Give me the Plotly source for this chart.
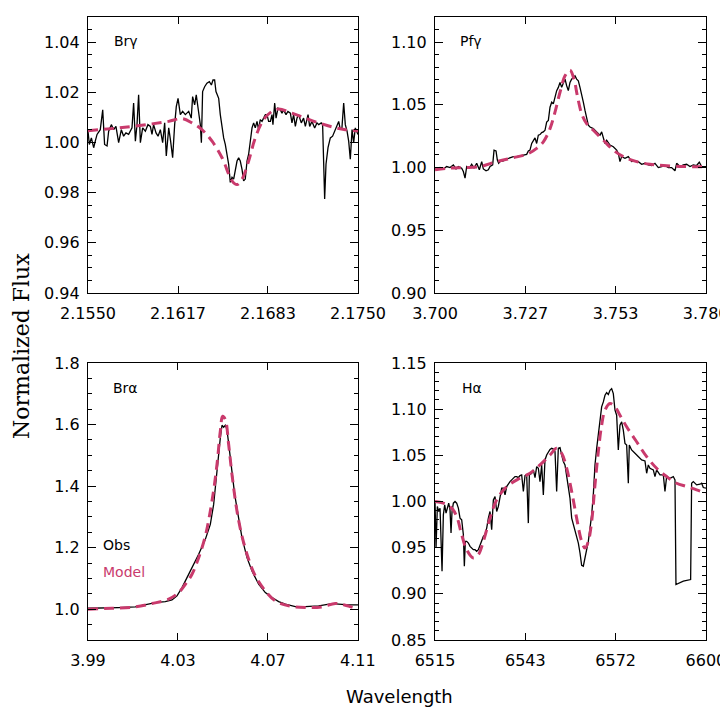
import plotly.graph_objects as go
from plotly.subplots import make_subplots

# ---- Br gamma ----
brg_obs_wl = [2.15500, 2.15510, 2.15525, 2.15542, 2.15554, 2.15567, 2.15591, 2.15609, 2.15623, 2.15641,
              2.15653, 2.15673, 2.15690, 2.15707, 2.15727, 2.15747, 2.15764, 2.15781, 2.15801, 2.15826,
              2.15838, 2.15851, 2.15863, 2.15875, 2.15888, 2.15905, 2.15925, 2.15944, 2.15962, 2.15974,
              2.15986, 2.16004, 2.16019, 2.16036, 2.16053, 2.16068, 2.16080, 2.16098, 2.16112, 2.16127,
              2.16142, 2.16154, 2.16167, 2.16184, 2.16201, 2.16221, 2.16246, 2.16265, 2.16275, 2.16290,
              2.16302, 2.16320, 2.16332, 2.16340, 2.16349, 2.16364, 2.16381, 2.16399, 2.16414, 2.16426,
              2.16438, 2.16448, 2.16468, 2.16480, 2.16493, 2.16505, 2.16517, 2.16530, 2.16542, 2.16554,
              2.16567, 2.16579, 2.16591, 2.16604, 2.16616, 2.16628, 2.16641, 2.16653, 2.16665, 2.16678,
              2.16690, 2.16702, 2.16715, 2.16727, 2.16739, 2.16752, 2.16764, 2.16776, 2.16789, 2.16801,
              2.16814, 2.16826, 2.16838, 2.16851, 2.16863, 2.16870, 2.16883, 2.16893, 2.16907, 2.16925,
              2.16937, 2.16949, 2.16967, 2.16981, 2.16999, 2.17011, 2.17023, 2.17036, 2.17048, 2.17060,
              2.17080, 2.17097, 2.17110, 2.17130, 2.17142, 2.17159, 2.17179, 2.17196, 2.17209, 2.17228,
              2.17238, 2.17253, 2.17263, 2.17278, 2.17295, 2.17312, 2.17332, 2.17344, 2.17357, 2.17369,
              2.17381, 2.17394, 2.17406, 2.17419, 2.17431, 2.17443, 2.17456, 2.17468, 2.17480, 2.17500]
brg_obs_flux = [1.0045, 0.9992, 1.0018, 0.9979, 1.0005, 1.0032, 1.0051, 1.0130, 0.9992, 0.9986,
                1.0045, 1.0071, 1.0051, 1.0064, 0.9999, 1.0051, 1.0025, 1.0038, 1.0032, 1.0058,
                1.0157, 1.0005, 1.0071, 1.0190, 0.9999, 1.0058, 1.0045, 1.0071, 1.0064, 1.0032,
                1.0071, 1.0038, 1.0025, 1.0051, 0.9999, 1.0078, 0.9946, 1.0058, 1.0005, 0.9939,
                1.0071, 1.0143, 1.0176, 1.0111, 1.0124, 1.0111, 1.0124, 1.0097, 1.0183, 1.0150,
                1.0190, 1.0111, 1.0071, 0.9999, 1.0203, 1.0222, 1.0236, 1.0242, 1.0229, 1.0249,
                1.0249, 1.0203, 1.0176, 1.0111, 1.0058, 1.0018, 0.9992, 0.9953, 0.9913, 0.9841,
                0.9861, 0.9854, 0.9887, 0.9926, 0.9939, 0.9926, 0.9893, 0.9847, 0.9854, 0.9926,
                0.9953, 1.0005, 1.0058, 1.0078, 1.0058, 1.0084, 1.0051, 1.0091, 1.0084, 1.0097,
                1.0111, 1.0111, 1.0084, 1.0084, 1.0111, 1.0071, 1.0157, 1.0097, 1.0137, 1.0130,
                1.0117, 1.0130, 1.0111, 1.0124, 1.0117, 1.0078, 1.0111, 1.0064, 1.0097, 1.0111,
                1.0078, 1.0097, 1.0064, 1.0111, 1.0064, 1.0084, 1.0058, 1.0078, 1.0071, 1.0078,
                1.0071, 0.9775, 0.9913, 0.9979, 1.0018, 1.0025, 1.0051, 1.0071, 1.0084, 1.0051,
                1.0058, 1.0157, 1.0071, 1.0045, 1.0005, 0.9933, 1.0051, 0.9999, 1.0058, 1.0032]
brg_mod_wl = [2.15500, 2.15727, 2.15974, 2.16098, 2.16196, 2.16270, 2.16344, 2.16419, 2.16493, 2.16567,
              2.16604, 2.16641, 2.16690, 2.16739, 2.16801, 2.16863, 2.16912, 2.17011, 2.17110, 2.17209,
              2.17307, 2.17406, 2.17500]
brg_mod_flux = [1.0047, 1.0058, 1.0074, 1.0084, 1.0095, 1.0078, 1.0051, 1.0005, 0.9939, 0.9847,
                0.9832, 0.9854, 0.9926, 1.0018, 1.0091, 1.0124, 1.0133, 1.0117, 1.0097, 1.0078,
                1.0062, 1.0051, 1.0047]

# ---- Pf gamma ----
pfg_obs_wl = [3.70000, 3.70069, 3.70148, 3.70246, 3.70344, 3.70443, 3.70541, 3.70620, 3.70689, 3.70787,
              3.70836, 3.70886, 3.70935, 3.71014, 3.71082, 3.71151, 3.71230, 3.71309, 3.71378, 3.71427,
              3.71506, 3.71574, 3.71624, 3.71702, 3.71742, 3.71801, 3.71840, 3.71879, 3.71919, 3.72017,
              3.72116, 3.72214, 3.72312, 3.72411, 3.72509, 3.72608, 3.72706, 3.72755, 3.72804, 3.72854,
              3.72903, 3.72952, 3.73001, 3.73050, 3.73100, 3.73149, 3.73198, 3.73247, 3.73296, 3.73346,
              3.73395, 3.73444, 3.73493, 3.73542, 3.73592, 3.73641, 3.73690, 3.73739, 3.73788, 3.73838,
              3.73887, 3.73936, 3.73985, 3.74034, 3.74084, 3.74133, 3.74182, 3.74231, 3.74280, 3.74330,
              3.74379, 3.74428, 3.74477, 3.74526, 3.74576, 3.74674, 3.74772, 3.74871, 3.74920, 3.74969,
              3.75018, 3.75068, 3.75166, 3.75264, 3.75363, 3.75412, 3.75461, 3.75510, 3.75609, 3.75707,
              3.75806, 3.75904, 3.76002, 3.76101, 3.76199, 3.76298, 3.76396, 3.76494, 3.76593, 3.76691,
              3.76790, 3.76888, 3.76986, 3.77085, 3.77134, 3.77232, 3.77331, 3.77429, 3.77528, 3.77626,
              3.77724, 3.77803, 3.77872, 3.78000]
pfg_obs_flux = [0.9989, 0.9982, 1.0000, 0.9989, 1.0008, 1.0000, 1.0021, 0.9989, 1.0008, 0.9995,
                0.9968, 0.9916, 1.0008, 0.9995, 1.0026, 0.9995, 1.0034, 0.9982, 1.0047, 0.9989,
                0.9974, 0.9982, 1.0008, 1.0021, 1.0139, 1.0132, 1.0060, 1.0034, 1.0047, 1.0053,
                1.0068, 1.0079, 1.0087, 1.0087, 1.0092, 1.0100, 1.0105, 1.0132, 1.0139, 1.0192,
                1.0218, 1.0237, 1.0192, 1.0258, 1.0263, 1.0279, 1.0284, 1.0297, 1.0363, 1.0376,
                1.0481, 1.0521, 1.0508, 1.0573, 1.0613, 1.0639, 1.0679, 1.0639, 1.0679, 1.0705,
                1.0652, 1.0613, 1.0679, 1.0705, 1.0718, 1.0731, 1.0705, 1.0692, 1.0639, 1.0586,
                1.0521, 1.0455, 1.0389, 1.0337, 1.0323, 1.0310, 1.0284, 1.0258, 1.0284, 1.0231,
                1.0192, 1.0218, 1.0179, 1.0166, 1.0139, 1.0113, 1.0047, 1.0087, 1.0074, 1.0087,
                1.0047, 1.0053, 1.0047, 1.0026, 1.0034, 1.0021, 1.0016, 1.0034, 1.0000, 1.0008,
                1.0016, 1.0000, 1.0000, 0.9974, 1.0034, 1.0008, 1.0021, 1.0026, 1.0008, 1.0021,
                1.0016, 1.0042, 1.0008, 1.0008]
pfg_mod_wl = [3.70000, 3.70443, 3.70836, 3.71328, 3.71820, 3.72312, 3.72706, 3.73001, 3.73198, 3.73395,
              3.73542, 3.73690, 3.73838, 3.73985, 3.74103, 3.74202, 3.74330, 3.74477, 3.74674, 3.74969,
              3.75264, 3.75559, 3.75953, 3.76347, 3.76740, 3.77331, 3.78000]
pfg_mod_flux = [0.9982, 0.9995, 1.0000, 1.0008, 1.0047, 1.0079, 1.0105, 1.0153, 1.0205, 1.0310,
                1.0442, 1.0600, 1.0731, 1.0776, 1.0705, 1.0573, 1.0429, 1.0350, 1.0297, 1.0218,
                1.0139, 1.0087, 1.0047, 1.0026, 1.0016, 1.0008, 1.0005]

# ---- Br alpha ----
bra_obs_wl = [3.99000, 3.99622, 4.00363, 4.01104, 4.01548, 4.01993, 4.02437, 4.02733, 4.02956, 4.03178,
              4.03400, 4.03622, 4.03919, 4.04215, 4.04437, 4.04585, 4.04704, 4.04807, 4.04881, 4.04956,
              4.05030, 4.05104, 4.05178, 4.05281, 4.05400, 4.05519, 4.05667, 4.05844, 4.06067, 4.06289,
              4.06585, 4.06881, 4.07178, 4.07474, 4.07770, 4.08215, 4.08659, 4.09252, 4.09844, 4.10141,
              4.10585, 4.11000]
bra_obs_flux = [1.0032, 1.0032, 1.0054, 1.0076, 1.0141, 1.0216, 1.0249, 1.0303, 1.0432, 1.0703,
                1.1027, 1.1351, 1.1784, 1.2270, 1.2757, 1.3405, 1.4162, 1.5027, 1.5567, 1.5978,
                1.5913, 1.5978, 1.5837, 1.5135, 1.4378, 1.3730, 1.3081, 1.2324, 1.1676, 1.1243,
                1.0811, 1.0541, 1.0378, 1.0249, 1.0162, 1.0086, 1.0086, 1.0108, 1.0184, 1.0162,
                1.0141, 1.0141]
bra_mod_wl = [3.99000, 4.00067, 4.01104, 4.01844, 4.02585, 4.03030, 4.03326, 4.03622, 4.03919, 4.04215,
              4.04511, 4.04733, 4.04881, 4.04985, 4.05104, 4.05252, 4.05400, 4.05622, 4.05844, 4.06141,
              4.06437, 4.06881, 4.07326, 4.07919, 4.08659, 4.09400, 4.09993, 4.10437, 4.11000]
bra_mod_flux = [1.0000, 1.0032, 1.0076, 1.0184, 1.0324, 1.0541, 1.0811, 1.1135, 1.1676, 1.2378,
                1.3513, 1.4702, 1.5784, 1.6270, 1.6162, 1.5351, 1.4378, 1.3189, 1.2378, 1.1622,
                1.1081, 1.0595, 1.0270, 1.0108, 1.0054, 1.0076, 1.0184, 1.0130, 1.0000]

# ---- H alpha ----
ha_obs_wl = [6515.00, 6515.31, 6515.73, 6516.15, 6516.57, 6516.88, 6517.20, 6517.61, 6518.03, 6518.45,
             6518.87, 6519.29, 6519.70, 6520.02, 6520.33, 6520.75, 6521.27, 6521.80, 6522.32, 6522.84,
             6523.36, 6523.89, 6524.20, 6524.51, 6524.93, 6525.46, 6525.98, 6526.50, 6527.02, 6527.55,
             6528.07, 6528.59, 6529.11, 6529.64, 6530.16, 6530.68, 6531.21, 6531.73, 6532.25, 6532.77,
             6533.30, 6533.82, 6534.34, 6534.86, 6535.39, 6535.91, 6536.43, 6536.96, 6537.48, 6538.00,
             6538.52, 6539.05, 6539.57, 6540.09, 6540.61, 6541.14, 6541.66, 6542.18, 6542.71, 6543.23,
             6543.75, 6544.27, 6544.59, 6545.32, 6545.84, 6546.37, 6546.89, 6547.41, 6547.93, 6548.46,
             6548.98, 6549.50, 6550.02, 6550.55, 6551.07, 6551.59, 6552.12, 6552.64, 6553.16, 6553.68,
             6554.21, 6554.73, 6555.25, 6555.77, 6556.30, 6556.82, 6557.34, 6557.87, 6558.39, 6558.91,
             6559.43, 6559.96, 6560.48, 6561.00, 6561.52, 6562.05, 6562.57, 6563.09, 6563.62, 6564.14,
             6564.66, 6565.18, 6565.71, 6566.23, 6566.75, 6567.27, 6567.80, 6568.32, 6568.84, 6569.37,
             6569.89, 6570.41, 6570.93, 6571.46, 6571.98, 6572.50, 6573.02, 6573.55, 6574.07, 6574.59,
             6575.12, 6575.64, 6575.95, 6576.68, 6577.73, 6578.77, 6579.82, 6580.86, 6581.39, 6581.91,
             6582.43, 6583.48, 6584.00, 6584.52, 6585.57, 6586.62, 6587.14, 6587.66, 6588.71, 6589.75,
             6590.28, 6590.59, 6592.89, 6595.19, 6595.50, 6596.03, 6597.07, 6598.12, 6598.64, 6599.16,
             6600.00]
ha_obs_flux = [1.0000, 0.9496, 0.9946, 0.9892, 0.9928, 0.9496, 0.9245, 0.9856, 0.9964, 0.9874,
               0.9946, 0.9982, 0.9910, 0.9658, 0.9892, 0.9982, 1.0000, 0.9982, 0.9928, 0.9820,
               0.9802, 0.9640, 0.9299, 0.9568, 0.9568, 0.9550, 0.9514, 0.9496, 0.9478, 0.9478,
               0.9460, 0.9478, 0.9532, 0.9586, 0.9622, 0.9640, 0.9712, 0.9820, 0.9892, 0.9694,
               1.0018, 1.0054, 0.9892, 0.9946, 1.0036, 1.0144, 1.0144, 1.0072, 1.0162, 1.0198,
               1.0216, 1.0234, 1.0252, 1.0270, 1.0270, 1.0259, 1.0281, 1.0288, 1.0108, 1.0281,
               1.0295, 0.9766, 1.0288, 1.0306, 1.0342, 1.0259, 1.0378, 1.0360, 1.0216, 1.0396,
               1.0072, 1.0450, 1.0504, 1.0540, 1.0565, 1.0576, 1.0568, 1.0540, 1.0108, 1.0576,
               1.0583, 1.0504, 1.0432, 1.0396, 1.0288, 1.0180, 1.0036, 0.9820, 0.9748, 0.9676,
               0.9622, 0.9550, 0.9442, 0.9309, 0.9299, 0.9389, 0.9496, 0.9568, 0.9712, 0.9856,
               1.0072, 1.0396, 1.0576, 1.0719, 1.0881, 1.1025, 1.1079, 1.1151, 1.1180, 1.1158,
               1.1205, 1.1223, 1.1169, 1.0989, 1.0935, 1.0558, 1.0827, 1.0863, 1.0773, 1.0629,
               1.0611, 1.0198, 1.0611, 1.0558, 1.0522, 1.0486, 1.0450, 1.0439, 1.0306, 1.0396,
               1.0360, 1.0342, 1.0270, 1.0342, 1.0288, 1.0288, 1.0108, 1.0270, 1.0252, 1.0270,
               1.0234, 0.9101, 0.9137, 0.9155, 1.0198, 1.0216, 1.0180, 1.0187, 1.0198, 1.0151,
               1.0144]
ha_mod_wl = [6515.00, 6517.61, 6520.23, 6521.80, 6523.36, 6524.93, 6527.02, 6528.59, 6530.16, 6532.25,
             6534.34, 6537.48, 6541.66, 6544.80, 6547.93, 6551.07, 6553.16, 6554.73, 6556.30, 6557.87,
             6559.43, 6561.00, 6562.05, 6563.09, 6564.14, 6565.18, 6566.23, 6567.27, 6568.32, 6569.89,
             6571.46, 6573.02, 6575.12, 6578.25, 6581.39, 6584.52, 6587.66, 6590.80, 6593.94, 6597.07,
             6600.00]
ha_mod_flux = [1.0000, 0.9982, 0.9928, 0.9838, 0.9640, 0.9478, 0.9389, 0.9424, 0.9568, 0.9820,
               1.0018, 1.0162, 1.0252, 1.0306, 1.0396, 1.0504, 1.0576, 1.0522, 1.0360, 1.0108,
               0.9820, 0.9568, 0.9496, 0.9568, 0.9784, 1.0180, 1.0540, 1.0827, 1.0989, 1.1061,
               1.1025, 1.0935, 1.0809, 1.0647, 1.0486, 1.0360, 1.0270, 1.0198, 1.0162, 1.0126,
               1.0090]

# axis ranges / ticks
x_ranges = [[2.155, 2.175], [3.70, 3.78], [3.99, 4.11], [6515, 6600]]
x_ticks = [[2.1550, 2.16167, 2.16833, 2.1750], [3.700, 3.72667, 3.75333, 3.7799],
           [3.99, 4.03, 4.07, 4.1099], [6515, 6543.33, 6571.67, 6599.99]]
x_ticktext = [["2.1550", "2.1617", "2.1683", "2.1750"], ["3.700", "3.727", "3.753", "3.780"],
              ["3.99", "4.03", "4.07", "4.11"], ["6515", "6543", "6572", "6600"]]
y_ranges = [[0.94, 1.05], [0.90, 1.12], [0.90, 1.80], [0.85, 1.15]]
y_dtick = [0.02, 0.05, 0.2, 0.05]
y_minor = [0.005, 0.01, 0.05, 0.01]
y_format = [".2f", ".2f", ".1f", ".2f"]
line_names = ["Br\u03b3", "Pf\u03b3", "Br\u03b1", "H\u03b1"]

OBS_COLOR = "black"
MOD_COLOR = "#C93A6C"
FONT = "DejaVu Sans"

panels = [
    (brg_obs_wl, brg_obs_flux, brg_mod_wl, brg_mod_flux),
    (pfg_obs_wl, pfg_obs_flux, pfg_mod_wl, pfg_mod_flux),
    (bra_obs_wl, bra_obs_flux, bra_mod_wl, bra_mod_flux),
    (ha_obs_wl, ha_obs_flux, ha_mod_wl, ha_mod_flux),
]

fig = make_subplots(rows=2, cols=2)

for i, (ow, of, mw, mf) in enumerate(panels):
    r, c = i // 2 + 1, i % 2 + 1
    fig.add_trace(go.Scatter(x=ow, y=of, mode="lines",
                             line=dict(color=OBS_COLOR, width=1.3), showlegend=False),
                  row=r, col=c)
    fig.add_trace(go.Scatter(x=mw, y=mf, mode="lines",
                             line=dict(color=MOD_COLOR, width=3, dash="10px,6px", shape="spline"),
                             showlegend=False),
                  row=r, col=c)

# panel positions (paper fractions; the page adds an 8px body margin)
x_dom = [[0.1111, 0.4861], [0.5931, 0.9694]]
y_dom = [[0.5952, 0.9872], [0.1023, 0.4957]]

for i in range(4):
    r, c = i // 2, i % 2
    n = "" if i == 0 else str(i + 1)
    fig.layout["xaxis" + n].update(
        domain=x_dom[c], range=x_ranges[i], tickvals=x_ticks[i], ticktext=x_ticktext[i],
        ticks="inside", ticklen=7, tickwidth=1.2, tickcolor="black", mirror="ticks",
        showline=True, linecolor="black", linewidth=1.3, showgrid=False, zeroline=False,
        automargin=False, ticklabelstandoff=6, ticklabeloverflow="allow",
        tickfont=dict(family=FONT, size=16, color="black"),
    )
    fig.layout["yaxis" + n].update(
        domain=y_dom[r], range=y_ranges[i], dtick=y_dtick[i], tick0=0, tickformat=y_format[i],
        ticks="inside", ticklen=8, tickwidth=1.2, tickcolor="black", mirror="ticks",
        showline=True, linecolor="black", linewidth=1.3, showgrid=False, zeroline=False,
        minor=dict(dtick=y_minor[i], ticks="inside", ticklen=4, tickwidth=1.2,
                   tickcolor="black", showgrid=False),
        automargin=False, ticklabelstandoff=4,
        tickfont=dict(family=FONT, size=16, color="black"),
    )

# line names inside each panel
label_pos = [(0.1639, 0.9531), (0.6431, 0.9531), (0.1625, 0.4602), (0.6444, 0.4602)]
annotations = []
for name, (ax, ay) in zip(line_names, label_pos):
    annotations.append(dict(text=name, x=ax, y=ay, xref="paper", yref="paper",
                            xanchor="center", yanchor="middle", showarrow=False,
                            font=dict(family=FONT, size=14, color="black")))

annotations += [
    dict(text="Obs", x=0.1292, y=0.2372, xref="paper", yref="paper", xanchor="left",
         yanchor="middle", showarrow=False, font=dict(family=FONT, size=14, color=OBS_COLOR)),
    dict(text="Model", x=0.1292, y=0.1989, xref="paper", yref="paper", xanchor="left",
         yanchor="middle", showarrow=False, font=dict(family=FONT, size=14, color=MOD_COLOR)),
    dict(text="Normalized Flux", x=0.0194, y=0.5199, xref="paper", yref="paper",
         xanchor="center", yanchor="middle", textangle=-90, showarrow=False,
         font=dict(family="DejaVu Serif", size=22, color="black")),
    dict(text="Wavelength", x=0.5431, y=0.0227, xref="paper", yref="paper",
         xanchor="center", yanchor="middle", showarrow=False,
         font=dict(family=FONT, size=18, color="black")),
]

fig.update_layout(
    template="none",
    width=720, height=704,
    margin=dict(l=0, r=0, t=0, b=0, autoexpand=False),
    paper_bgcolor="white", plot_bgcolor="white",
    annotations=annotations,
    showlegend=False,
)

fig.write_html("out.html")
